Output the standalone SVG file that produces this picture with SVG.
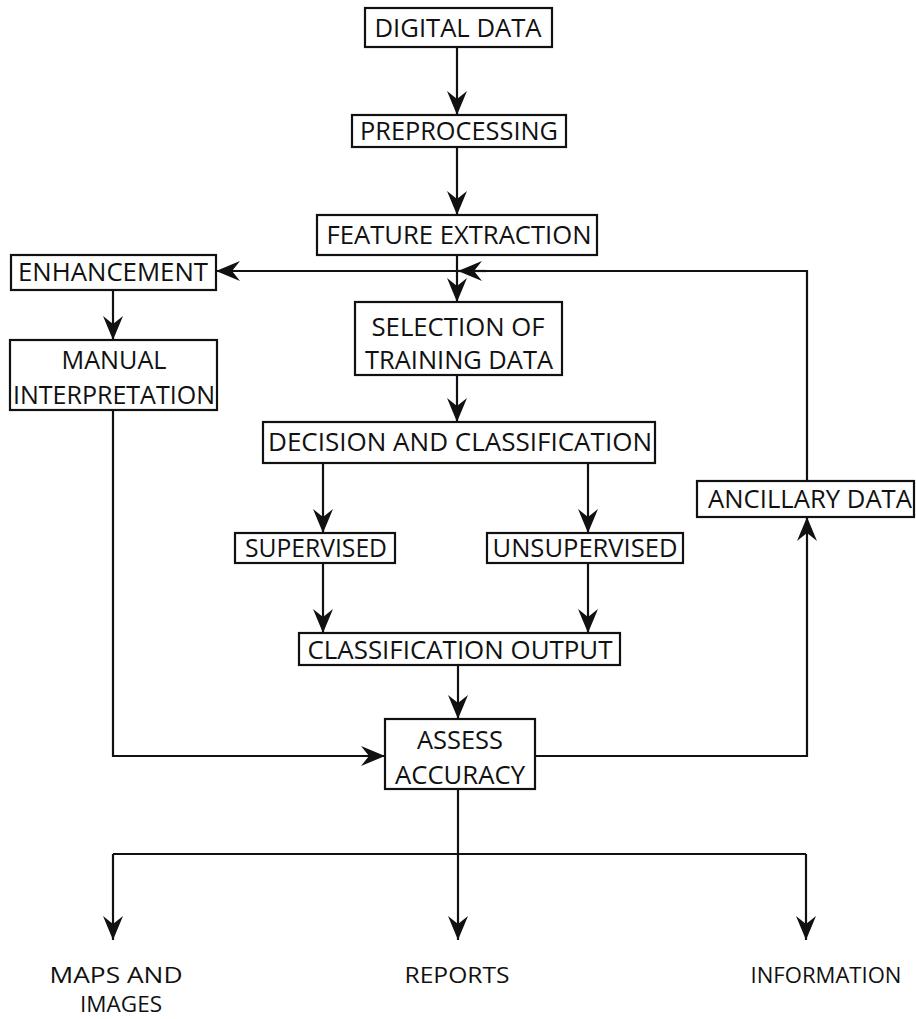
<svg xmlns="http://www.w3.org/2000/svg" width="916" height="1019" viewBox="0 0 916 1019">
<style>
.box{fill:#fff;stroke:#111;stroke-width:2.2}
.t{font-family:"Open Sans","Liberation Sans",sans-serif;font-size:25px;fill:#111;text-anchor:middle}
.b{font-size:22px}
.c{fill:none;stroke:#111;stroke-width:2.2}
.a{marker-end:url(#arr)}
</style>
<defs>
<marker id="arr" markerUnits="userSpaceOnUse" markerWidth="28" markerHeight="24" viewBox="-25 -12 28 24" refX="0" refY="0" orient="auto" overflow="visible">
<path d="M0,0 L-24,-10 L-16,0 L-24,10 Z" fill="#111"/>
</marker>
</defs>
<rect width="916" height="1019" fill="#fff"/>
<g id="connectors">
<path class="c a" d="M457,47 V115"/>
<path class="c a" d="M457,147 V215"/>
<path class="c a" d="M457,255 V302"/>
<path class="c a" d="M457,375 V422"/>
<path class="c a" d="M323,463 V533"/>
<path class="c a" d="M588,463 V533"/>
<path class="c a" d="M323,563 V633"/>
<path class="c a" d="M588,563 V633"/>
<path class="c a" d="M458,665 V719"/>
<path class="c a" d="M113,290 V340"/>
<path class="c a" d="M113,410 V756 H385"/>
<path class="c a" d="M535,756 H807 V517"/>
<path class="c a" d="M807,481 V271 H216"/>
<path class="c a" d="M486,271 H458"/>
<path class="c" d="M458,789 V854"/>
<path class="c" d="M113,854 H806"/>
<path class="c a" d="M113,854 V940"/>
<path class="c a" d="M458,854 V940"/>
<path class="c a" d="M806,854 V940"/>
</g>
<g id="digital-data"><rect class="box" x="365" y="8" width="187" height="39"/><text class="t" x="458" y="37" textLength="167" lengthAdjust="spacingAndGlyphs">DIGITAL DATA</text></g>
<g id="preprocessing"><rect class="box" x="352" y="115" width="214" height="32"/><text class="t" x="459" y="140" textLength="198" lengthAdjust="spacingAndGlyphs">PREPROCESSING</text></g>
<g id="feature-extraction"><rect class="box" x="317" y="215" width="280" height="40"/><text class="t" x="459" y="244" textLength="265" lengthAdjust="spacingAndGlyphs">FEATURE EXTRACTION</text></g>
<g id="enhancement"><rect class="box" x="11" y="255" width="205" height="35"/><text class="t" x="113" y="281" textLength="190" lengthAdjust="spacingAndGlyphs">ENHANCEMENT</text></g>
<g id="manual-interpretation"><rect class="box" x="10" y="340" width="207" height="70"/><text class="t" x="114" y="369" textLength="105" lengthAdjust="spacingAndGlyphs">MANUAL</text><text class="t" x="114" y="404" textLength="202" lengthAdjust="spacingAndGlyphs">INTERPRETATION</text></g>
<g id="selection-of-training-data"><rect class="box" x="355" y="302" width="207" height="73"/><text class="t" x="458" y="336" textLength="173" lengthAdjust="spacingAndGlyphs">SELECTION OF</text><text class="t" x="459" y="369" textLength="188" lengthAdjust="spacingAndGlyphs">TRAINING DATA</text></g>
<g id="decision-and-classification"><rect class="box" x="263" y="422" width="392" height="41"/><text class="t" x="460" y="451" textLength="384" lengthAdjust="spacingAndGlyphs">DECISION AND CLASSIFICATION</text></g>
<g id="supervised"><rect class="box" x="235" y="533" width="160" height="30"/><text class="t" x="316" y="557" textLength="142" lengthAdjust="spacingAndGlyphs">SUPERVISED</text></g>
<g id="unsupervised"><rect class="box" x="487" y="533" width="196" height="30"/><text class="t" x="585" y="557" textLength="185" lengthAdjust="spacingAndGlyphs">UNSUPERVISED</text></g>
<g id="classification-output"><rect class="box" x="299" y="633" width="321" height="32"/><text class="t" x="460" y="659" textLength="305" lengthAdjust="spacingAndGlyphs">CLASSIFICATION OUTPUT</text></g>
<g id="assess-accuracy"><rect class="box" x="385" y="719" width="150" height="70"/><text class="t" x="460" y="749" textLength="86" lengthAdjust="spacingAndGlyphs">ASSESS</text><text class="t" x="460" y="784" textLength="130" lengthAdjust="spacingAndGlyphs">ACCURACY</text></g>
<g id="ancillary-data"><rect class="box" x="697" y="481" width="217" height="36"/><text class="t" x="810" y="508" textLength="204" lengthAdjust="spacingAndGlyphs">ANCILLARY DATA</text></g>
<g id="maps-and-images"><text class="t b" x="116" y="983" textLength="133" lengthAdjust="spacingAndGlyphs">MAPS AND</text><text class="t b" x="121" y="1012" textLength="82" lengthAdjust="spacingAndGlyphs">IMAGES</text></g>
<g id="reports"><text class="t b" x="457" y="983" textLength="105" lengthAdjust="spacingAndGlyphs">REPORTS</text></g>
<g id="information"><text class="t b" x="826" y="983" textLength="151" lengthAdjust="spacingAndGlyphs">INFORMATION</text></g>
</svg>
